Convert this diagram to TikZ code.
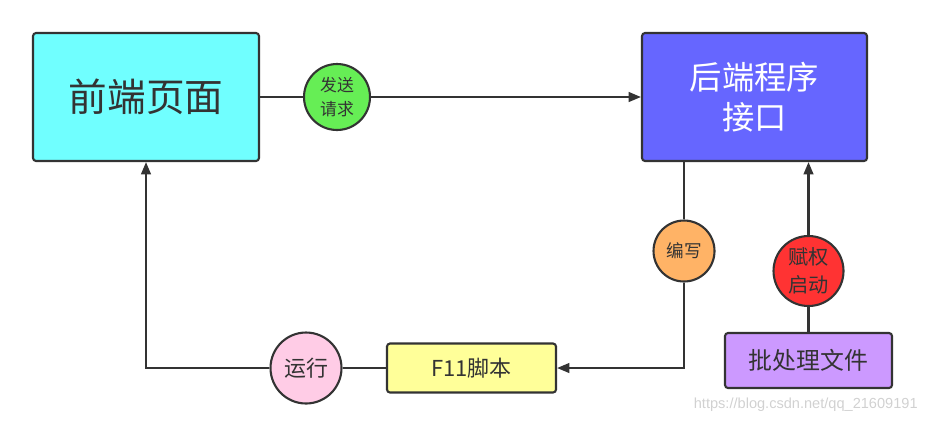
\documentclass[tikz,border=0pt]{standalone}
\usepackage{fontspec}
\setmainfont{Noto Sans CJK SC}
\newfontfamily\markfont{Liberation Sans}
\usepackage{tikz}
\usetikzlibrary{arrows.meta}

\definecolor{linegray}{HTML}{333333}
\definecolor{frontcyan}{HTML}{70FFFF}
\definecolor{backblue}{HTML}{6666FF}
\definecolor{sendgreen}{HTML}{66EE55}
\definecolor{writeorange}{HTML}{FFB366}
\definecolor{grantred}{HTML}{FF3333}
\definecolor{runpink}{HTML}{FFCCE6}
\definecolor{scriptyellow}{HTML}{FFFF99}
\definecolor{batchpurple}{HTML}{CC99FF}

\begin{document}
\begin{tikzpicture}[x=0.02cm, y=-0.02cm,
  box/.style={draw=linegray, line width=1.2pt, rounded corners=1.7pt, text=linegray, align=center, inner sep=0pt},
  tag/.style={circle, draw=linegray, line width=1.2pt, text=linegray, align=center, inner sep=0pt},
  link/.style={draw=linegray, line width=1.2pt},
  arr/.style={link, -{Triangle[length=7pt, width=5.5pt]}}]
\useasboundingbox (0,0) rectangle (925,424);
% boxes
\node[box, fill=frontcyan, minimum width=4.52cm, minimum height=2.56cm, font=\fontsize{22}{26}\selectfont] (front) at (146,97) {前端页面};
\node[box, fill=backblue, text=white, minimum width=4.5cm, minimum height=2.56cm, font=\fontsize{18.4}{22.7}\selectfont] (back) at (754.5,97) {后端程序\\接口};
\node[box, fill=scriptyellow, minimum width=3.38cm, minimum height=0.98cm, font=\fontsize{12.5}{15}\selectfont] (script) at (471.5,368) {F11脚本};
\node[box, fill=batchpurple, minimum width=3.34cm, minimum height=1.1cm, font=\fontsize{13.6}{16}\selectfont] (batch) at (808.5,360.5) {批处理文件};
% labels on the links
\node[tag, fill=sendgreen, minimum size=1.32cm, font=\fontsize{9.6}{13.6}\selectfont] (send) at (337,97) {发送\\请求};
\node[tag, fill=writeorange, minimum size=1.22cm, font=\fontsize{10}{12}\selectfont] (write) at (684,251) {编写};
\node[tag, fill=grantred, minimum size=1.4cm, font=\fontsize{11.5}{16}\selectfont] (grant) at (808.5,271) {赋权\\启动};
\node[tag, fill=runpink, minimum size=1.42cm, font=\fontsize{12.5}{15}\selectfont] (run) at (306,368) {运行};
% links
\draw[link] (front.east) -- (send.west);
\draw[arr] (send.east) -- (back.west);
\draw[link] (back.south -| write) -- (write.north);
\draw[arr] (write.south) |- (script.east);
\draw[link] (script.west) -- (run.east);
\draw[arr] (run.west) -| (front.south);
\draw[link] (batch.north) -- (grant.south);
\draw[arr] (grant.north) -- (grant.north |- back.south);
% watermark
\node[anchor=east, inner sep=0pt, text=black!18, font=\markfont\fontsize{8.3}{10}\selectfont] (mark) at (918,405) {https://blog.csdn.net/qq\_21609191};
\end{tikzpicture}
\end{document}
